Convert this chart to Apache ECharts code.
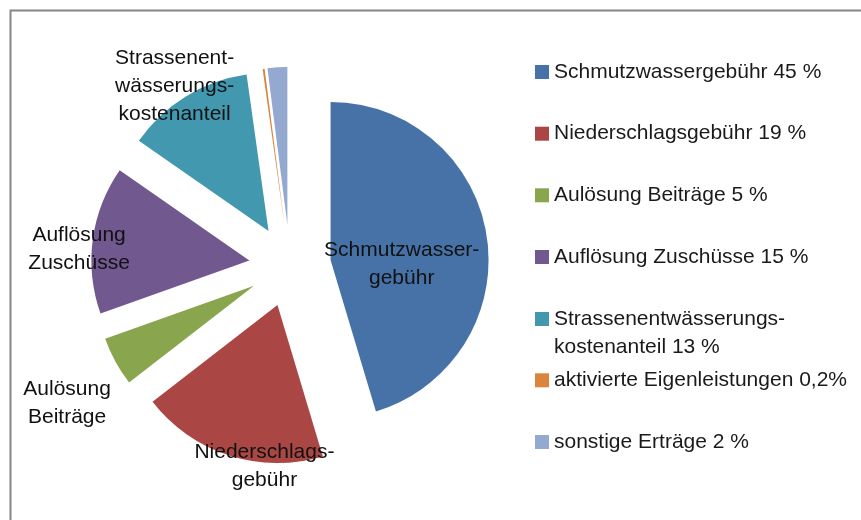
<!DOCTYPE html>
<html>
<head>
<meta charset="utf-8">
<script src="https://cdn.jsdelivr.net/npm/echarts@6/dist/echarts.min.js"></script>
<style>
  html, body { margin: 0; padding: 0; background: #fff; }
  #chart { width: 861px; height: 520px; }
</style>
</head>
<body>
<div id="chart"></div>
<script>
// Werte aus dem Bild
const names = ['Schmutzwassergebühr', 'Niederschlagsgebühr', 'Aulösung Beiträge', 'Auflösung Zuschüsse', 'Strassenentwässerungskostenanteil', 'aktivierte Eigenleistungen', 'sonstige Erträge']
const values = [45, 19, 5, 15, 13, 0.2, 2]
// fuehrende Leerzeile beim 5. Eintrag: erste Zeile steht dann auf Hoehe des Symbols
const legendTexts = ['Schmutzwassergebühr 45 %', 'Niederschlagsgebühr 19 %', 'Aulösung Beiträge 5 %', 'Auflösung Zuschüsse 15 %', ' \nStrassenentwässerungs-\nkostenanteil 13 %', 'aktivierte Eigenleistungen 0,2%', 'sonstige Erträge 2 %']
const sliceTexts = ['Schmutzwasser-\ngebühr', 'Niederschlags-\ngebühr', 'Aulösung\nBeiträge', 'Auflösung\nZuschüsse', 'Strassenent-\nwässerungs-\nkostenanteil', '', '']
const colors = ['#4672A8', '#AA4744', '#89A54E', '#71588F', '#4298AF', '#DB843D', '#93A9CF']

// Verschiebung der Beschriftungen (dx, dy) gegenueber "inside"
const labelShift = [[-10, 16], [12, 83], [-115, 78], [-89, 0], [-51, -75], [0, 0], [0, 0]]
const legendTops = [58, 119.7, 181.3, 243, 277, 366.3, 428]

const font = 'Liberation Sans'

const chart = echarts.init(document.getElementById('chart'))

const legends = names.map((name, i) => ({
  data: [name],
  orient: 'vertical',
  left: 535,
  top: legendTops[i],
  padding: 0,
  itemWidth: 14,
  itemHeight: 14,
  icon: 'rect',
  selectedMode: false,
  formatter: () => legendTexts[i],
  textStyle: {
    fontFamily: font,
    fontSize: 21,
    lineHeight: 28,
    color: '#1a1a1a'
  }
}))

const option = {
  animation: false,
  color: colors,
  graphic: [
    {
      type: 'rect',
      left: 8,
      top: 8,
      shape: { width: 900, height: 600 },
      style: { fill: 'none', stroke: '#868686', lineWidth: 2 },
      silent: true
    }
  ],
  legend: legends,
  series: [
    {
      type: 'pie',
      center: [290, 266],
      radius: 158,
      startAngle: 90,
      clockwise: true,
      selectedMode: 'multiple',
      selectedOffset: 41,
      avoidLabelOverlap: false,
      emphasis: { disabled: true },
      label: {
        show: true,
        position: 'inside',
        fontFamily: font,
        fontSize: 21,
        lineHeight: 28,
        color: '#111',
        formatter: (p) => sliceTexts[p.dataIndex]
      },
      labelLine: { show: false },
      labelLayout: (p) => ({ dx: labelShift[p.dataIndex][0], dy: labelShift[p.dataIndex][1] }),
      data: names.map((name, i) => ({
        name: name,
        value: values[i],
        selected: true,
        label: { show: sliceTexts[i] !== '' }
      }))
    }
  ]
}

chart.setOption(option)
</script>
</body>
</html>
